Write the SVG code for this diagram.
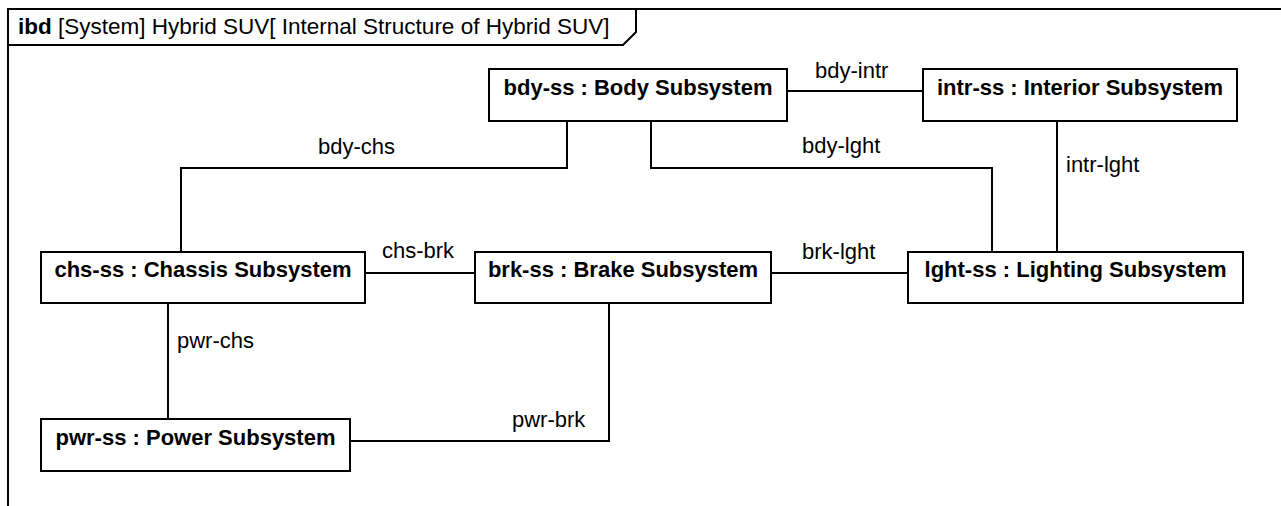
<svg xmlns="http://www.w3.org/2000/svg" width="1281" height="506" viewBox="0 0 1281 506">
<style>
.frame{fill:none;stroke:#000;stroke-width:2}
.box{fill:#fff;stroke:#000;stroke-width:2}
.conn{fill:none;stroke:#000;stroke-width:2}
.nt{font-family:"Liberation Sans",Arial,sans-serif;font-size:22px;font-weight:bold;fill:#000;text-anchor:middle}
.lb{font-family:"Liberation Sans",Arial,sans-serif;font-size:22px;fill:#000}
.hd{font-family:"Liberation Sans",Arial,sans-serif;font-size:22.5px;fill:#000}
</style>
<rect width="1281" height="506" fill="#fff"/>
<g id="frame">
<path class="frame" d="M8,506 V9 H1281"/>
<path class="frame" d="M8,45 H623 L636,32 V9"/>
<text class="hd" x="18" y="34"><tspan font-weight="bold">ibd</tspan> [System] Hybrid SUV[ Internal Structure of Hybrid SUV]</text>
</g>
<g id="connectors">
<path class="conn" d="M787,91 H923"/>
<path class="conn" d="M567,121 V168 H181 V252"/>
<path class="conn" d="M651,121 V168 H992 V252"/>
<path class="conn" d="M1057,121 V252"/>
<path class="conn" d="M365,273 H475"/>
<path class="conn" d="M771,273 H908"/>
<path class="conn" d="M168,303 V419"/>
<path class="conn" d="M350,441 H609 V303"/>
<text class="lb" x="815" y="78">bdy-intr</text>
<text class="lb" x="318" y="154">bdy-chs</text>
<text class="lb" x="802" y="153">bdy-lght</text>
<text class="lb" x="1066" y="172">intr-lght</text>
<text class="lb" x="382" y="258">chs-brk</text>
<text class="lb" x="802" y="259">brk-lght</text>
<text class="lb" x="177" y="348">pwr-chs</text>
<text class="lb" x="512" y="427">pwr-brk</text>
</g>
<g id="bdy-ss"><rect class="box" x="489" y="69" width="298" height="52"/><text class="nt" x="638" y="95">bdy-ss : Body Subsystem</text></g>
<g id="intr-ss"><rect class="box" x="923" y="69" width="314" height="52"/><text class="nt" x="1080" y="95">intr-ss : Interior Subsystem</text></g>
<g id="chs-ss"><rect class="box" x="41" y="252" width="324" height="51"/><text class="nt" x="203" y="277">chs-ss : Chassis Subsystem</text></g>
<g id="brk-ss"><rect class="box" x="475" y="252" width="296" height="51"/><text class="nt" x="623" y="277">brk-ss : Brake Subsystem</text></g>
<g id="lght-ss"><rect class="box" x="908" y="252" width="335" height="51"/><text class="nt" x="1075.5" y="277">lght-ss : Lighting Subsystem</text></g>
<g id="pwr-ss"><rect class="box" x="41" y="419" width="309" height="52"/><text class="nt" x="195.5" y="445">pwr-ss : Power Subsystem</text></g>
</svg>
